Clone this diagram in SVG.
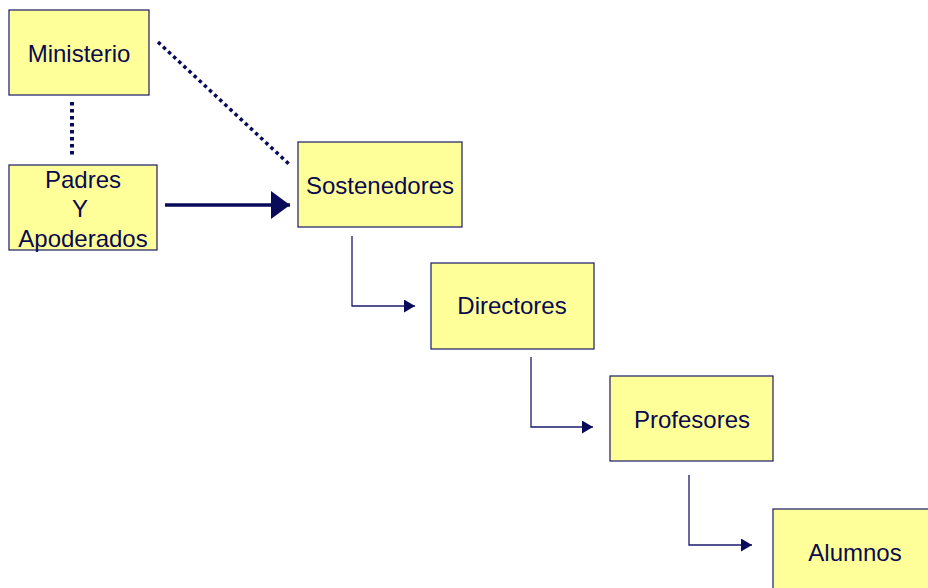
<svg xmlns="http://www.w3.org/2000/svg" width="928" height="588" viewBox="0 0 928 588">
<defs>
<style>
.box{fill:#FFFF99;stroke:#1a1a66;stroke-width:1.2}
.t{font-family:"Liberation Sans",Arial,sans-serif;font-size:24px;fill:#0a0a50;text-anchor:middle}
.thin{fill:none;stroke:#1a1a6e;stroke-width:1.3}
.dot{fill:none;stroke:#0a0a5a;stroke-width:4;stroke-dasharray:3.5 3.5}
</style>
<marker id="ah" markerWidth="12" markerHeight="14" refX="11" refY="6.5" orient="auto" markerUnits="userSpaceOnUse">
<path d="M0,0 L11,6.5 L0,13 Z" fill="#0a0a5a"/>
</marker>
<marker id="ahBig" markerWidth="20" markerHeight="30" refX="19" refY="14" orient="auto" markerUnits="userSpaceOnUse">
<path d="M0,0 L19,14 L0,28 Z" fill="#0a0a5a"/>
</marker>
</defs>
<g id="connectors">
<line class="dot" x1="72" y1="102" x2="72" y2="157"/>
<line class="dot" x1="158" y1="42" x2="290" y2="165" style="stroke-width:3.5"/>
<line x1="165" y1="205" x2="290" y2="205" stroke="#0a0a5a" stroke-width="3.5" marker-end="url(#ahBig)"/>
<polyline class="thin" points="352,236 352,306 415,306" marker-end="url(#ah)"/>
<polyline class="thin" points="531,357 531,427 593,427" marker-end="url(#ah)"/>
<polyline class="thin" points="689,475 689,545 752,545" marker-end="url(#ah)"/>
</g>
<g id="ministerio">
<rect class="box" x="9" y="10" width="140" height="85"/>
<text class="t" x="79" y="62">Ministerio</text>
</g>
<g id="padres">
<rect class="box" x="9" y="165" width="148" height="85"/>
<text class="t" x="83" y="188">Padres</text>
<text class="t" x="80" y="217">Y</text>
<text class="t" x="83" y="247">Apoderados</text>
</g>
<g id="sostenedores">
<rect class="box" x="298" y="142" width="164" height="85"/>
<text class="t" x="380" y="194">Sostenedores</text>
</g>
<g id="directores">
<rect class="box" x="431" y="263" width="163" height="86"/>
<text class="t" x="512" y="314">Directores</text>
</g>
<g id="profesores">
<rect class="box" x="610" y="376" width="163" height="85"/>
<text class="t" x="692" y="428">Profesores</text>
</g>
<g id="alumnos">
<rect class="box" x="773" y="509" width="160" height="85"/>
<text class="t" x="855" y="561">Alumnos</text>
</g>
</svg>
